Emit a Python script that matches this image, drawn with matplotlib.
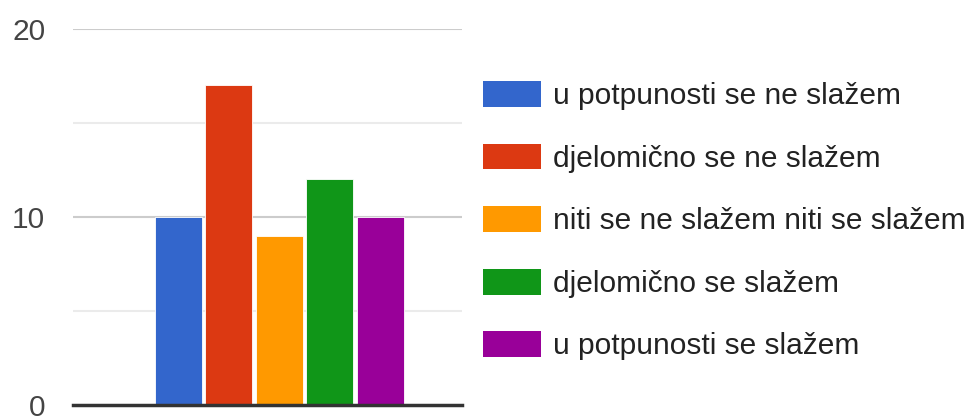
import matplotlib.pyplot as plt
from matplotlib.patches import Patch

# odgovori i broj ispitanika
kategorije = ['u potpunosti se ne slažem', 'djelomično se ne slažem',
              'niti se ne slažem niti se slažem', 'djelomično se slažem',
              'u potpunosti se slažem']
vrijednosti = [10, 17, 9, 12, 10]
boje = ['#3366cc', '#dc3912', '#ff9900', '#109618', '#990099']
y_tickovi = [0, 10, 20]

plt.rcParams['font.family'] = ['Liberation Sans', 'DejaVu Sans']

fig = plt.figure(figsize=(9.69, 4.16), dpi=100)
ax = fig.add_axes([73/969, 11/416, 389/969, 376/416])

x = list(range(len(vrijednosti)))
ax.bar(x, vrijednosti, width=0.93, color=boje, edgecolor='white', linewidth=0.6, zorder=3)

ax.set_ylim(0, 20)
ax.set_xlim(-2.08, 5.62)
for v in [5, 15]:
    ax.axhline(v, color='#ebebeb', linewidth=1.5, zorder=1)
for v in [10, 20]:
    ax.axhline(v, color='#cccccc', linewidth=1.5, zorder=1)
ax.axhline(0, color='#333333', linewidth=2.5, zorder=4, clip_on=False)

ax.set_yticks(y_tickovi)
ax.set_yticklabels([str(t) for t in y_tickovi], fontsize=21.5, color='#444444')
ax.tick_params(axis='y', length=0, pad=20)
ax.set_xticks([])
for s in ax.spines.values():
    s.set_visible(False)

rucke = [Patch(facecolor=b, edgecolor='none') for b in boje]
fig.legend(rucke, kategorije, loc='upper left', bbox_to_anchor=(483/969, 1 - 81/416),
           frameon=False, fontsize=21.5, handlelength=1.94, handleheight=0.95,
           labelspacing=1.12, handletextpad=0.4, borderaxespad=0, borderpad=0,
           labelcolor='#222222')

fig.savefig('out.png', dpi=100)
